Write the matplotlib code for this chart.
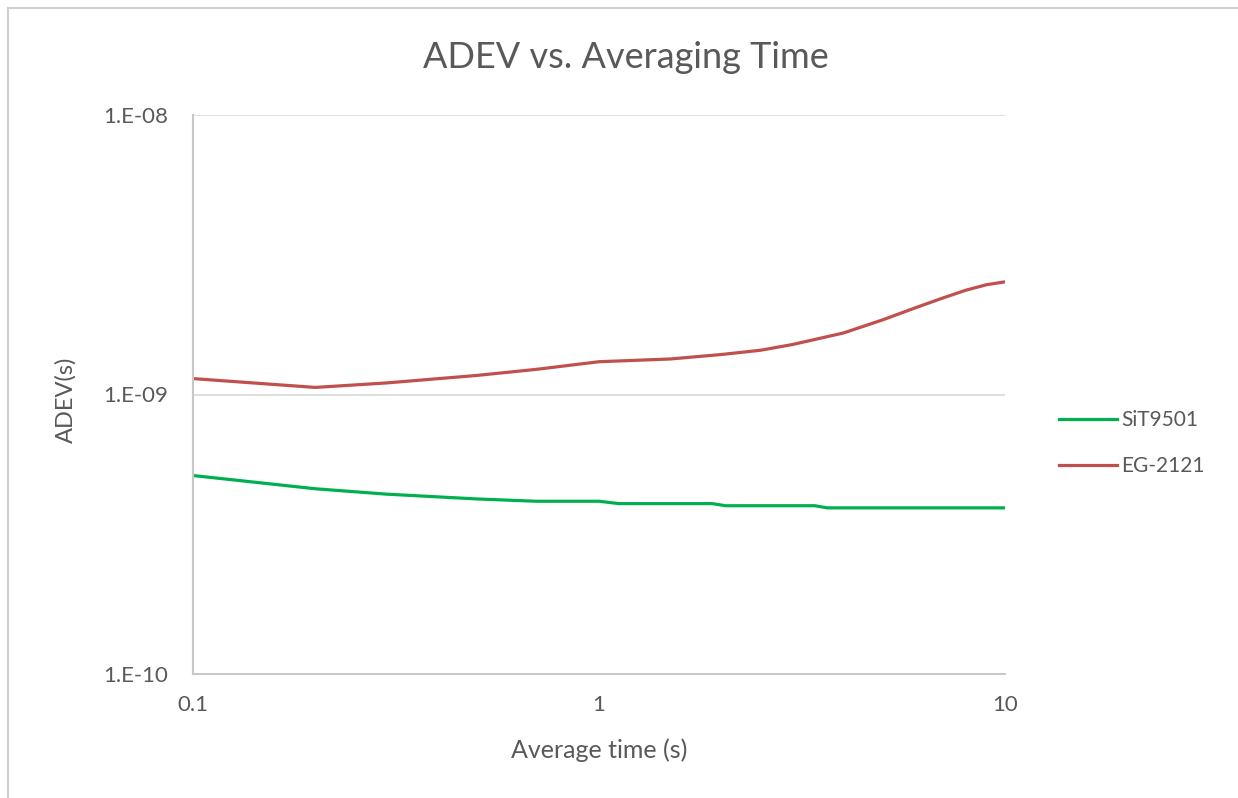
import matplotlib
matplotlib.use("Agg")
import matplotlib.pyplot as plt
from matplotlib.patches import Rectangle
from matplotlib.ticker import FixedLocator, NullLocator

plt.rcParams['font.family'] = ['Lato', 'DejaVu Sans']

tau_green = [0.1, 0.2, 0.3, 0.5, 0.7, 1.0, 1.12, 1.9, 2.05, 3.4, 3.65, 10.0]
adev_green = [5.13e-10, 4.60e-10, 4.40e-10, 4.23e-10, 4.15e-10, 4.15e-10,
              4.07e-10, 4.07e-10, 4.00e-10, 4.00e-10, 3.93e-10, 3.93e-10]

tau_red = [0.1, 0.2, 0.3, 0.5, 0.7, 1.0, 1.5, 2.0, 2.5, 3.0, 4.0, 5.0, 6.0, 7.0, 8.0, 9.0, 10.0]
adev_red = [1.14e-9, 1.06e-9, 1.10e-9, 1.17e-9, 1.23e-9, 1.31e-9, 1.34e-9, 1.39e-9,
            1.44e-9, 1.51e-9, 1.66e-9, 1.85e-9, 2.04e-9, 2.21e-9, 2.36e-9, 2.47e-9, 2.53e-9]

x_ticks = [0.1, 1, 10]
x_tick_labels = ['0.1', '1', '10']
y_ticks = [1e-10, 1e-9, 1e-8]
y_tick_labels = ['1.E-10', '1.E-09', '1.E-08']

txt = '#595959'
W, H = 1238, 798
fig = plt.figure(figsize=(W / 100, H / 100), dpi=100)
fig.patches.append(Rectangle((8 / W, -0.1), 1.2, 1 - 8 / H + 0.1, transform=fig.transFigure,
                             fill=False, edgecolor='#d0d0d0', linewidth=1.5))

ax = fig.add_axes([193 / W, 1 - 674 / H, (1005 - 193) / W, (674 - 115) / H])
ax.plot(tau_green, adev_green, color='#00B050', linewidth=2.3, label='SiT9501')
ax.plot(tau_red, adev_red, color='#C0504D', linewidth=2.3, label='EG-2121')
ax.set_xscale('log')
ax.set_yscale('log')
ax.set_xlim(0.1, 10)
ax.set_ylim(1e-10, 1e-8)
ax.xaxis.set_major_locator(FixedLocator(x_ticks))
ax.set_xticklabels(x_tick_labels)
ax.xaxis.set_minor_locator(NullLocator())
ax.yaxis.set_major_locator(FixedLocator(y_ticks))
ax.set_yticklabels(y_tick_labels)
ax.yaxis.set_minor_locator(NullLocator())
ax.tick_params(length=0, labelsize=16, colors=txt)
ax.tick_params(axis='x', pad=15)
ax.tick_params(axis='y', pad=18)
for s in ['top', 'right']:
    ax.spines[s].set_visible(False)
for s in ['left', 'bottom']:
    ax.spines[s].set_color('#c8c8c8')
    ax.spines[s].set_linewidth(1.5)
ax.grid(axis='y', which='major', color='#d9d9d9', linewidth=1.2)
ax.set_axisbelow(True)

ax.set_xlabel('Average time (s)', fontsize=18, color=txt, labelpad=17)
ax.set_ylabel('ADEV(s)', fontsize=17, color=txt)
ax.yaxis.set_label_coords((77 - 193) / (1005 - 193), 0.49)
fig.text(626 / W, 1 - 58 / H, 'ADEV vs. Averaging Time', fontsize=26, color=txt,
         ha='center', va='center')

leg = ax.legend(loc='center left', bbox_to_anchor=(1040 / W, 1 - 443 / H),
                bbox_transform=fig.transFigure, frameon=False, fontsize=15,
                labelcolor=txt, handlelength=2.8, handletextpad=0.2, labelspacing=1.25)

fig.savefig('out.png', dpi=100, facecolor='white')
